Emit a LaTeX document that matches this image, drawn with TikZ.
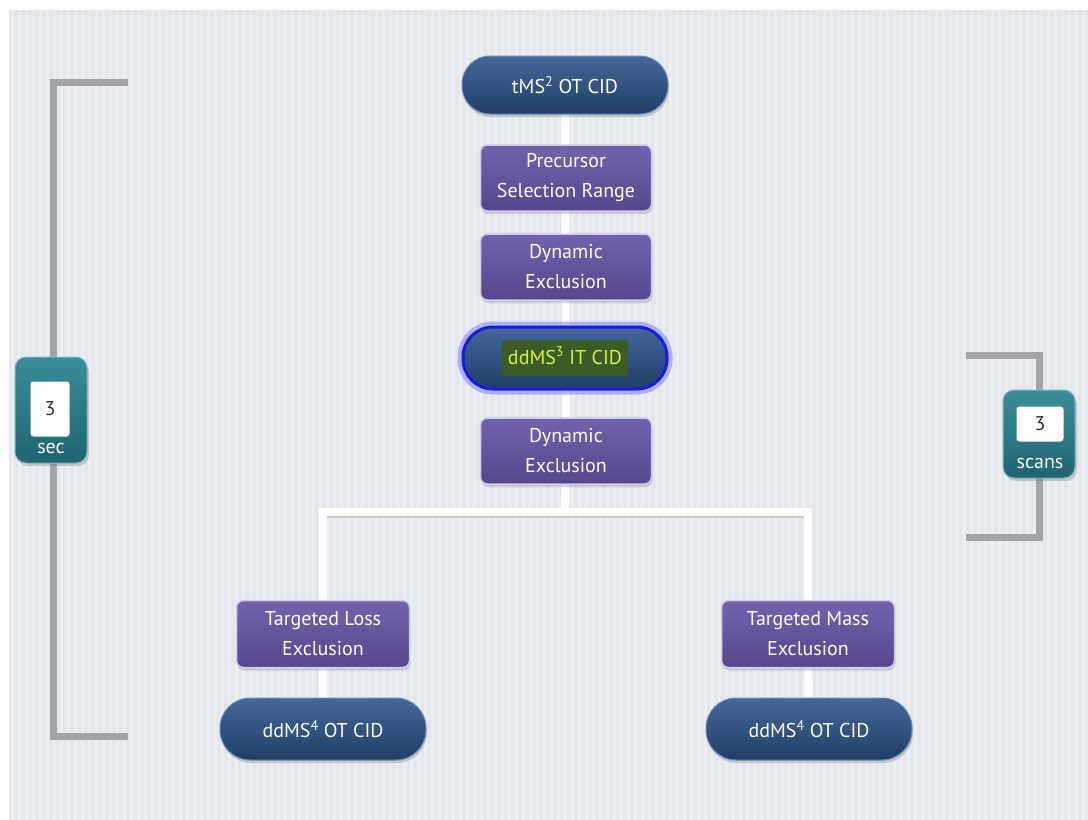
\documentclass[tikz,border=0pt]{standalone}
\usepackage{fontspec}
\setmainfont{PT Sans}
\usetikzlibrary{shadows}
\pgfdeclarelayer{panel}
\pgfdeclarelayer{wires}
\pgfsetlayers{panel,wires,main}
\definecolor{panelc}{HTML}{E3E6EB}
\definecolor{stripec}{HTML}{EBEDF1}
\definecolor{pilltop}{HTML}{44679A}
\definecolor{pillbot}{HTML}{223E67}
\definecolor{pilledge}{HTML}{6F8CB5}
\definecolor{boxtop}{HTML}{7363AE}
\definecolor{boxbot}{HTML}{56468E}
\definecolor{boxedge}{HTML}{D0CAE6}
\definecolor{tealtop}{HTML}{3A8E98}
\definecolor{tealbot}{HTML}{1E6570}
\definecolor{tealedge}{HTML}{7FB5BC}
\definecolor{grayline}{HTML}{A2A4A7}
\definecolor{glowblue}{HTML}{1A1AE6}
\definecolor{glowsoft}{HTML}{7878FF}
\definecolor{hlgreen}{HTML}{3D5B24}
\definecolor{hlyellow}{HTML}{D8F23A}
\tikzset{
  basefont/.style={font=\fontsize{20}{30}\selectfont},
  pill/.style={basefont, text=white, minimum width=206, minimum height=58,
    rounded corners=28, top color=pilltop, bottom color=pillbot,
    draw=pilledge, line width=1,
    drop shadow={shadow xshift=1pt, shadow yshift=-3pt, opacity=0.35}},
  glowpill/.style={basefont, minimum width=204, minimum height=62,
    rounded corners=30, top color=pilltop, bottom color=pillbot,
    draw=glowblue, line width=3,
    preaction={draw=glowsoft, line width=11, opacity=0.5}},
  pbox/.style={basefont, text=white, align=center, minimum width=171,
    minimum height=66, rounded corners=7, inner sep=2pt,
    top color=boxtop, bottom color=boxbot, draw=boxedge, line width=1.5,
    drop shadow={shadow xshift=1pt, shadow yshift=-3pt, opacity=0.3}},
  tealbox/.style={rounded corners=11, top color=tealtop, bottom color=tealbot,
    draw=tealedge, line width=1,
    drop shadow={shadow xshift=2pt, shadow yshift=-3pt, opacity=0.35}},
  valbox/.style={basefont, fill=white, rounded corners=3, text=black!80, inner sep=0pt},
  tlabel/.style={basefont, text=white, inner sep=0pt},
  wire/.style={draw=white, line width=8},
  wireshadow/.style={draw=black!22, line width=8},
  gbracket/.style={draw=grayline, line width=7}
}
\begin{document}
\begin{tikzpicture}[x=1pt,y=-1pt]
\useasboundingbox (0,0) rectangle (1088,820);
\begin{pgfonlayer}{panel}
  \fill[panelc] (9,10) rectangle (1088,820);
  \foreach \i in {0,...,153} \fill[stripec] ({11+\i*7},10) rectangle ({14+\i*7},820);
\end{pgfonlayer}

% main column
\node[pill] (ms2) at (565,85) {tMS\textsuperscript{2} OT CID};
\node[pbox] (psr) at (566,178) {Precursor\\Selection Range};
\node[pbox] (de1) at (566,267) {Dynamic\\Exclusion};
\node[glowpill] (ms3) at (565,358)
  {{\setlength\fboxsep{3pt}\colorbox{hlgreen}{\strut\,\textcolor{hlyellow}{ddMS\textsuperscript{3} IT CID}\,}}};
\node[pbox] (de2) at (566,451) {Dynamic\\Exclusion};
\coordinate (bar) at (565,512);

% branches
\node[pbox, minimum width=173, minimum height=67] (tle) at (323,634) {Targeted Loss\\Exclusion};
\node[pbox, minimum width=173, minimum height=67] (tme) at (808,634) {Targeted Mass\\Exclusion};
\node[pill, minimum height=62, rounded corners=30] (ms4l) at (323,729) {ddMS\textsuperscript{4} OT CID};
\node[pill, minimum height=62, rounded corners=30] (ms4r) at (809,729) {ddMS\textsuperscript{4} OT CID};

\begin{pgfonlayer}{wires}
  \draw[wireshadow, transform canvas={yshift=-1.5pt}] (tle) |- (bar) -| (tme);
  \draw[wire] (ms2) -- (de2);
  \draw[wire] (de2) -- (bar);
  \draw[wire] (tle) |- (bar) -| (tme);
  \draw[wire] (tle) -- (ms4l);
  \draw[wire] (tme) -- (ms4r);
\end{pgfonlayer}

% left bracket (time)
\coordinate (lt) at (128,82);
\coordinate (ltc) at (53,82);
\coordinate (lbc) at (53,736);
\coordinate (lb) at (128,736);
\draw[gbracket] (lt) -- (ltc) -- (lbc) -- (lb);
\node[tealbox, minimum width=72, minimum height=106] (secbox) at (51,410) {};
\node[valbox, minimum width=39, minimum height=55] (secval) at (50,409) {3};
\node[tlabel] (seclab) at (51,448) {sec};

% right bracket (scans)
\coordinate (rt) at (966,355);
\coordinate (rtc) at (1039,355);
\coordinate (rbc) at (1039,537);
\coordinate (rb) at (966,537);
\draw[gbracket] (rt) -- (rtc) -- (rbc) -- (rb);
\node[tealbox, minimum width=72, minimum height=88] (scanbox) at (1039,434) {};
\node[valbox, minimum width=47, minimum height=35] (scanval) at (1040,424) {3};
\node[tlabel] (scanlab) at (1040,463) {scans};
\end{tikzpicture}
\end{document}
